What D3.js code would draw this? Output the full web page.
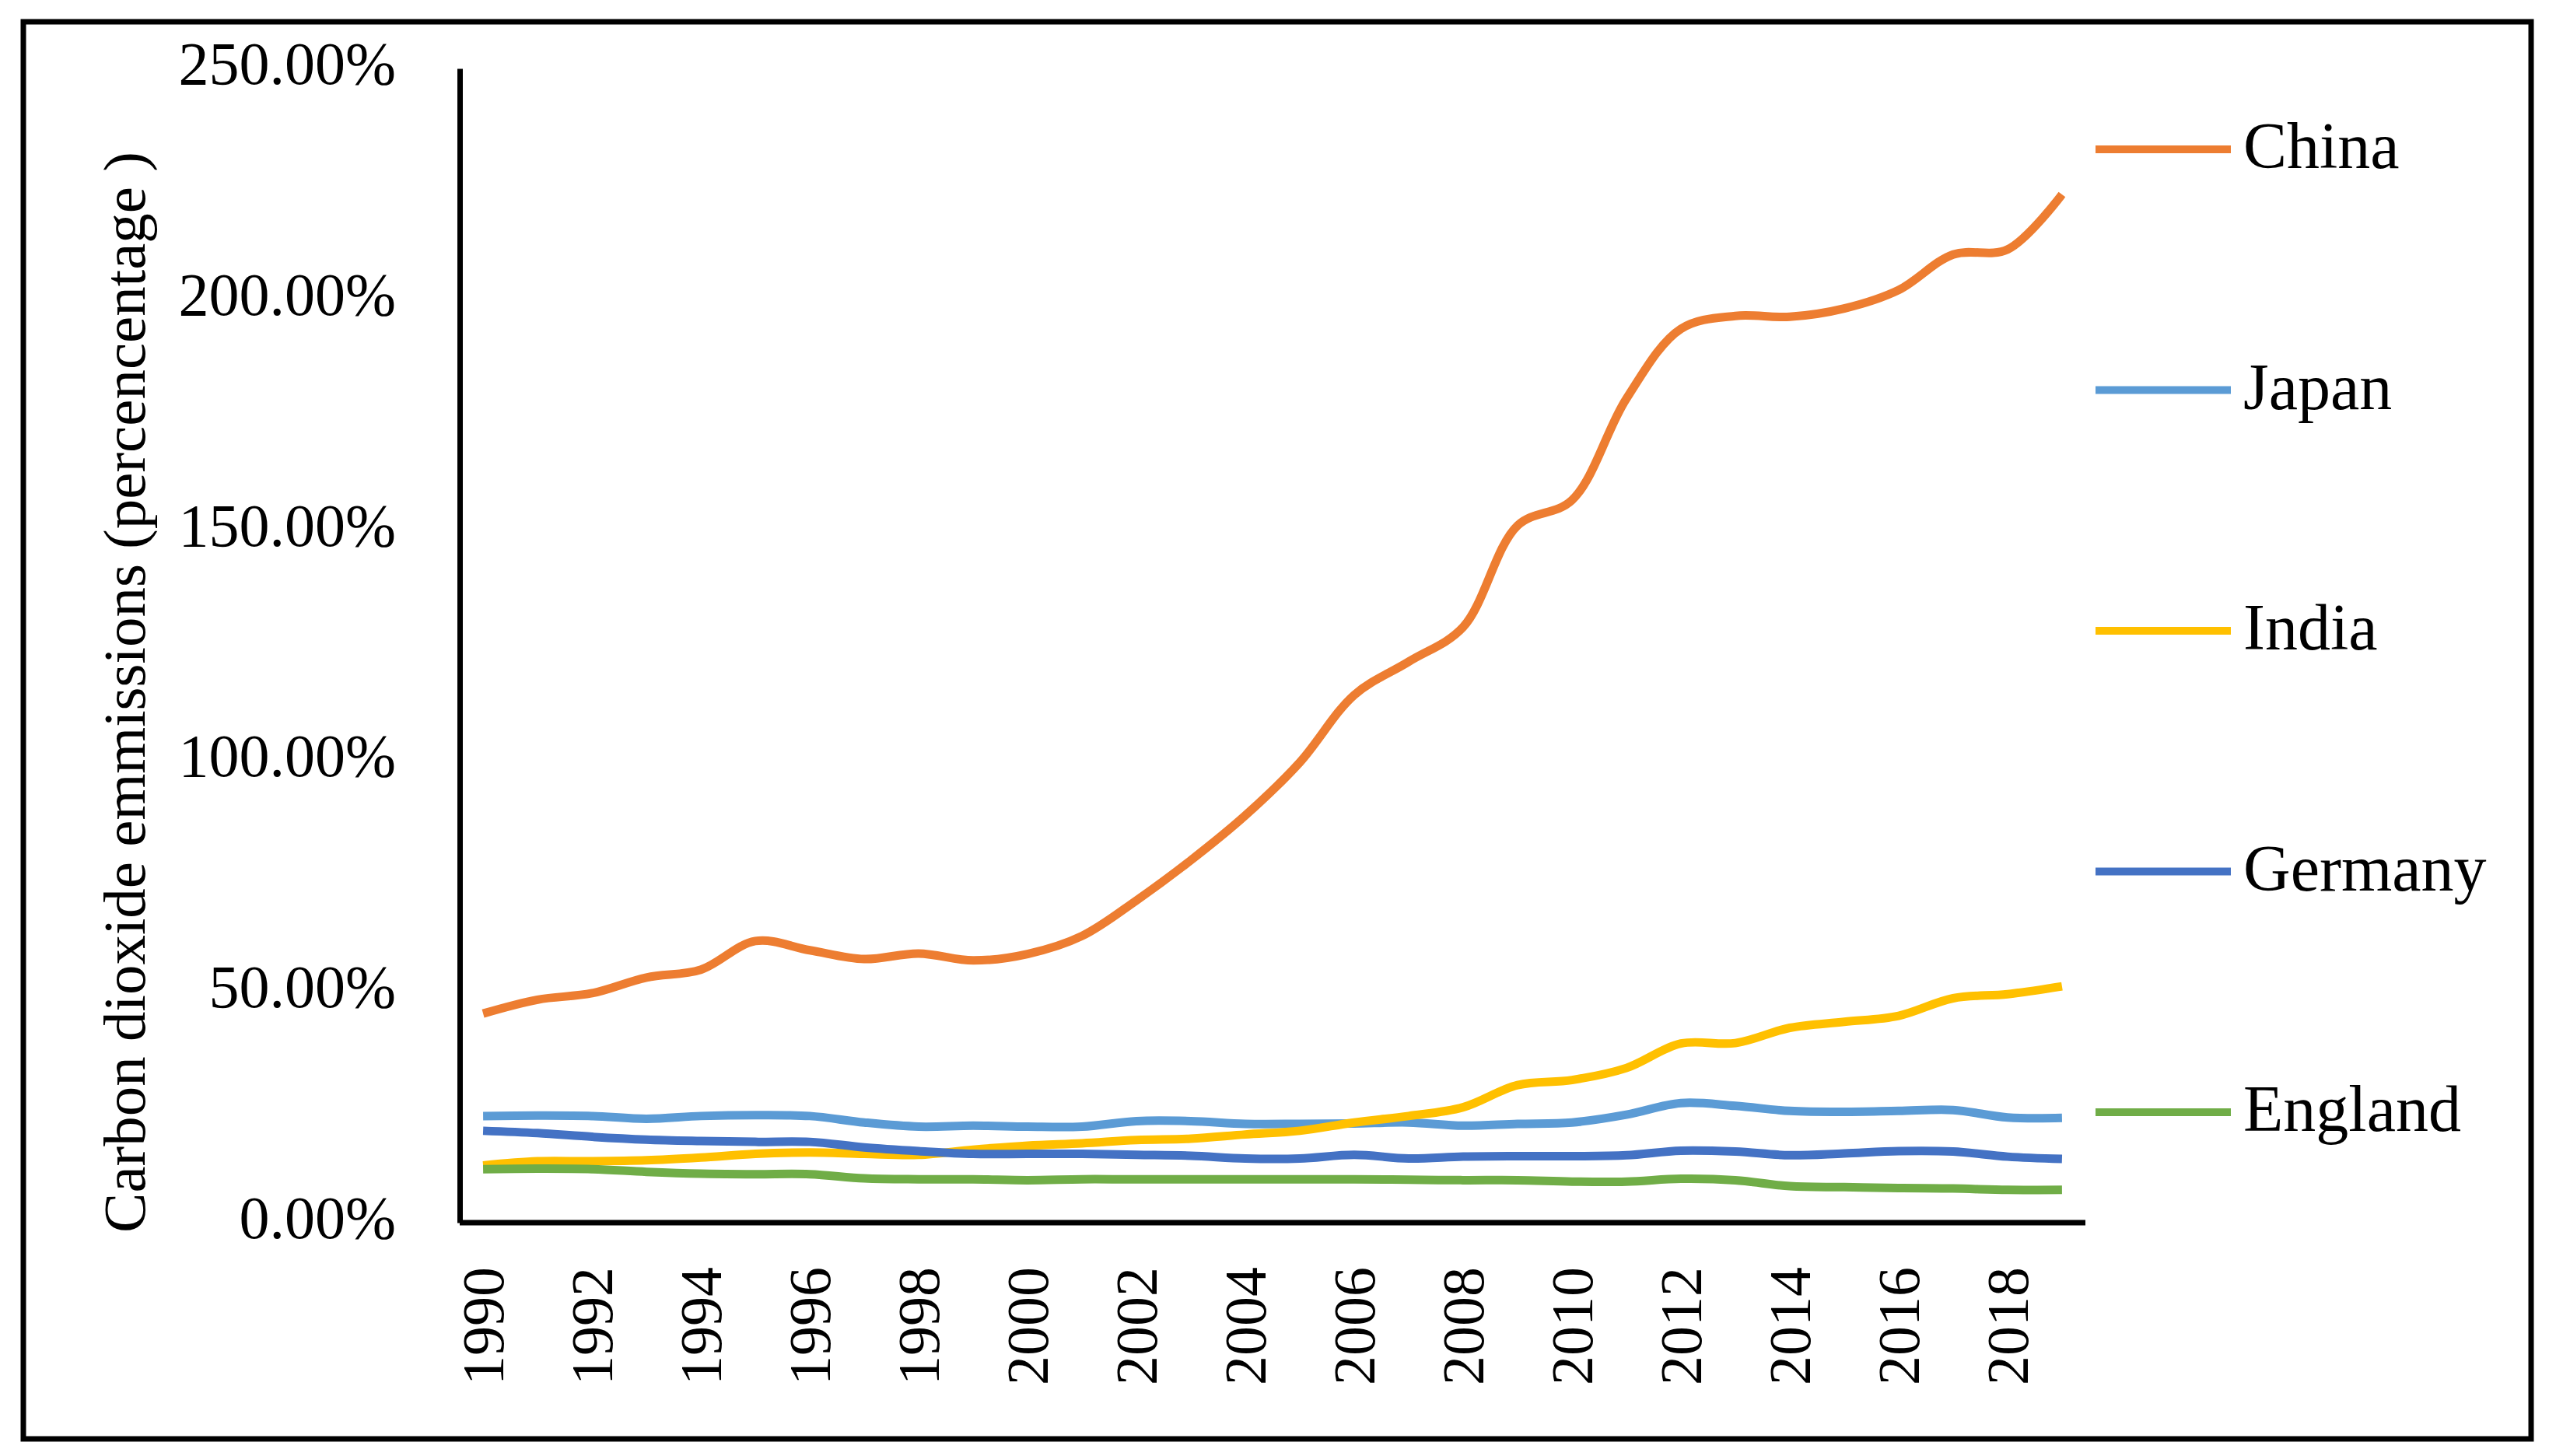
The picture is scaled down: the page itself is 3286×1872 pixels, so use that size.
<!DOCTYPE html>
<html>
<head>
<meta charset="utf-8">
<script src="https://cdn.jsdelivr.net/npm/d3@7"></script>
<style>
  html, body { margin: 0; padding: 0; background: #ffffff; }
  svg { display: block; }
</style>
</head>
<body>
<svg id="chart" width="3286" height="1872"></svg>
<script>
// ---------------- data ----------------
const years = [1990,1991,1992,1993,1994,1995,1996,1997,1998,1999,2000,2001,2002,2003,2004,2005,2006,2007,2008,2009,2010,2011,2012,2013,2014,2015,2016,2017,2018,2019];
const yearTickLabels = [1990,1992,1994,1996,1998,2000,2002,2004,2006,2008,2010,2012,2014,2016,2018];
const yTickValues = [0, 50, 100, 150, 200, 250];
const seriesNames = ["China", "Japan", "India", "Germany", "England"];
const china   = [45.3, 48.3, 49.7, 53.1, 54.8, 61.0, 59.0, 57.1, 58.3, 56.8, 58.2, 62.1, 69.8, 78.5, 88.2, 99.7, 114.3, 121.5, 129.0, 151.0, 156.5, 178.5, 193.6, 196.4, 196.2, 198.0, 202.0, 209.7, 210.8, 222.7];
const japan   = [23.1, 23.2, 23.1, 22.5, 23.1, 23.3, 23.1, 21.7, 20.8, 21.0, 20.8, 20.8, 22.0, 22.0, 21.4, 21.4, 21.5, 21.7, 21.0, 21.4, 21.7, 23.4, 25.9, 25.3, 24.2, 24.0, 24.2, 24.4, 22.8, 22.7];
const india   = [12.4, 13.3, 13.3, 13.5, 14.1, 14.9, 15.2, 14.9, 14.7, 15.8, 16.7, 17.2, 17.9, 18.2, 19.1, 19.9, 21.7, 23.1, 25.0, 29.8, 30.9, 33.5, 38.8, 38.9, 42.2, 43.5, 44.8, 48.6, 49.5, 51.2];
const germany = [19.9, 19.4, 18.6, 18.0, 17.7, 17.5, 17.5, 16.3, 15.5, 14.9, 14.9, 14.9, 14.7, 14.5, 13.9, 13.9, 14.7, 13.9, 14.3, 14.4, 14.4, 14.6, 15.6, 15.4, 14.6, 15.0, 15.5, 15.4, 14.3, 13.8];
const england = [11.6, 11.7, 11.6, 11.0, 10.6, 10.5, 10.5, 9.6, 9.4, 9.4, 9.2, 9.4, 9.4, 9.4, 9.4, 9.4, 9.4, 9.3, 9.2, 9.2, 8.9, 8.9, 9.5, 9.2, 7.9, 7.7, 7.5, 7.4, 7.1, 7.1];
const seriesValues = [china, japan, india, germany, england];
const seriesColors = ["#ED7D31", "#5B9BD5", "#FFC000", "#4472C4", "#70AD47"];
const yAxisTitle = "Carbon dioxide emmissions (percencentage )";

// ---------------- layout ----------------
const FONT = "'Liberation Serif', 'Times New Roman', serif";
const svg = d3.select("#chart");
svg.append("rect").attr("x", 0).attr("y", 0).attr("width", 3286).attr("height", 1872).attr("fill", "#fff");

// outer border
svg.append("rect")
  .attr("x", 30).attr("y", 28).attr("width", 3224).attr("height", 1822)
  .attr("fill", "none").attr("stroke", "#000").attr("stroke-width", 7);

const plot = { left: 591, right: 2681, top: 88, bottom: 1572 };

const x = d3.scalePoint().domain(years).range([plot.left, plot.right]).padding(0.43);
const y = d3.scaleLinear().domain([0, 250]).range([plot.bottom, plot.top]);

// y axis
const yAxis = svg.append("g")
  .attr("transform", `translate(${plot.left},0)`)
  .call(d3.axisLeft(y).tickValues(yTickValues).tickSize(0).tickSizeOuter(0).tickPadding(82)
        .tickFormat(d => d.toFixed(2) + "%"));
yAxis.select(".domain").attr("stroke", "#000").attr("stroke-width", 7);
yAxis.selectAll("text")
  .attr("font-family", FONT).attr("font-size", 78).attr("fill", "#000")
  .attr("dy", "0.25em");

// x axis
const xAxis = svg.append("g")
  .attr("transform", `translate(0,${plot.bottom})`)
  .call(d3.axisBottom(x).tickValues(yearTickLabels).tickSize(0).tickSizeOuter(0));
xAxis.select(".domain").attr("stroke", "#000").attr("stroke-width", 7)
  .attr("d", `M${plot.left},0H${plot.right}`);
xAxis.selectAll("text")
  .attr("font-family", FONT).attr("font-size", 76).attr("fill", "#000")
  .attr("transform", "rotate(-90)")
  .attr("text-anchor", "end")
  .attr("x", -57).attr("y", 0).attr("dy", "0.33em");

// y axis title
svg.append("text")
  .attr("transform", "translate(186,890) rotate(-90)")
  .attr("text-anchor", "middle")
  .attr("font-family", FONT).attr("font-size", 77).attr("fill", "#000")
  .text(yAxisTitle);

// lines
const line = d3.line()
  .x((d, i) => x(years[i]))
  .y(d => y(d))
  .curve(d3.curveCatmullRom.alpha(0.5));

svg.append("g").selectAll("path")
  .data(seriesValues)
  .join("path")
  .attr("d", d => line(d))
  .attr("fill", "none")
  .attr("stroke", (d, i) => seriesColors[i])
  .attr("stroke-width", 11)
  .attr("stroke-linejoin", "round");

// legend
const legendY = d3.scalePoint().domain(seriesNames).range([192, 1430]);
const legend = svg.append("g");
const items = legend.selectAll("g").data(seriesNames).join("g")
  .attr("transform", d => `translate(0,${legendY(d)})`);
items.append("line")
  .attr("x1", 2694).attr("x2", 2868).attr("y1", 0).attr("y2", 0)
  .attr("stroke", (d, i) => seriesColors[i]).attr("stroke-width", 10);
items.append("text")
  .attr("x", 2884).attr("y", 24)
  .attr("font-family", FONT).attr("font-size", 84).attr("fill", "#000")
  .text(d => d);
</script>
</body>
</html>
